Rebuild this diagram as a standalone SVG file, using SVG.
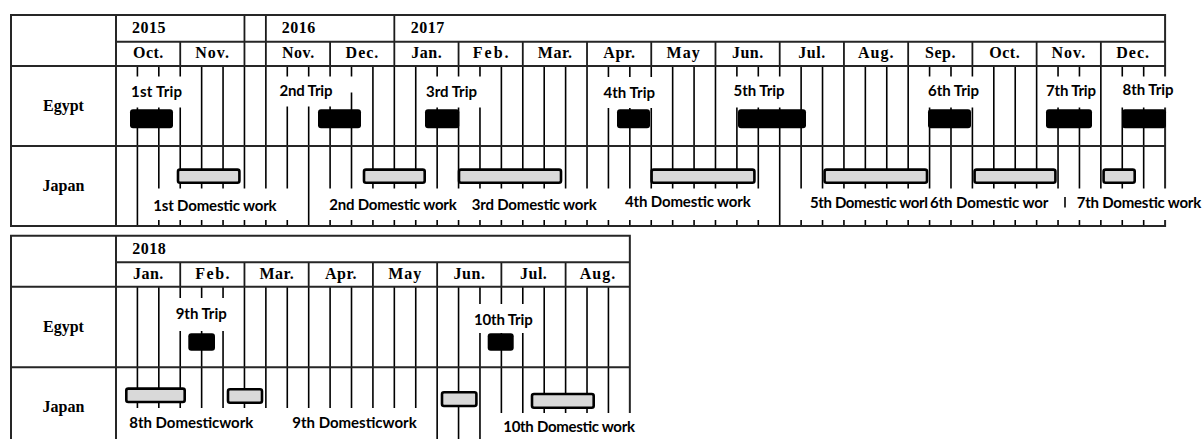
<svg xmlns="http://www.w3.org/2000/svg" width="1203" height="439" viewBox="0 0 1203 439">
<style>
  .frame{fill:none;stroke:#262626;stroke-width:2}
  .sep{fill:none;stroke:#1a1a1a;stroke-width:1.8}
  .grid{fill:none;stroke:#000;stroke-width:1.6}
  .hdr{font-family:"Liberation Serif","Times New Roman",serif;font-weight:bold;font-size:16px;fill:#000;letter-spacing:0.5px}
  .mon{text-anchor:middle}
  .row{font-family:"Liberation Serif","Times New Roman",serif;font-weight:bold;font-size:16px;fill:#000;text-anchor:middle}
  .lbl{font-family:Lato,"Liberation Sans",Arial,sans-serif;font-weight:bold;font-size:15px;fill:#000}
  .mask{fill:#fff}
  .trip{fill:#000}
  .work{fill:#d9d9d9;stroke:#000;stroke-width:2.6}
</style>
<rect width="1203" height="439" fill="#fff"/>

<!-- ===== 2015-2017 chart ===== -->
<g id="grid-2015-2017">
  <path class="grid" d="M137.41 66V226M158.82 66V226M180.23 66V226M201.64 66V226M223.05 66V226M244.46 66V226M265.87 66V226M287.28 66V226M308.69 66V226M330.1 66V226M351.51 66V226M372.92 66V226M394.33 66V226M415.74 66V226M437.15 66V226M458.56 66V226M479.97 66V226M501.38 66V226M522.79 66V226M544.2 66V226M565.61 66V226M587.02 66V226M608.43 66V226M629.84 66V226M651.25 66V226M672.66 66V226M694.07 66V226M715.48 66V226M736.89 66V226M758.3 66V226M779.71 66V226M801.12 66V226M822.53 66V226M843.94 66V226M865.35 66V226M886.76 66V226M908.17 66V226M929.58 66V226M950.99 66V226M972.4 66V226M993.81 66V226M1015.22 66V226M1036.63 66V226M1058.04 66V226M1079.45 66V226M1100.86 66V226M1122.27 66V226M1143.68 66V226"/>
  <path class="sep" d="M180.23 41.7V66M244.46 15V66M265.87 15V66M330.1 41.7V66M394.33 15V66M458.56 41.7V66M522.79 41.7V66M587.02 41.7V66M651.25 41.7V66M715.48 41.7V66M779.71 41.7V66M843.94 41.7V66M908.17 41.7V66M972.4 41.7V66M1036.63 41.7V66M1100.86 41.7V66"/>
  <path class="frame" d="M11 15H1165.09V226H11ZM116 15V226M116 41.7H1165.09M11 66H1165.09M11 146H1165.09"/>
</g>

<g id="header-2015-2017" class="hdr">
  <text x="132" y="32.5">2015</text>
  <text x="281.7" y="32.5">2016</text>
  <text x="410.7" y="32.5">2017</text>
  <g class="mon">
    <text x="148.4" y="58.3">Oct.</text>
    <text x="212.6" y="58.3" style="letter-spacing:1px">Nov.</text>
    <text x="298.3" y="58.3">Nov.</text>
    <text x="362.5" y="58.3" style="letter-spacing:1px">Dec.</text>
    <text x="426.7" y="58.3">Jan.</text>
    <text x="491.7" y="58.3" style="letter-spacing:2px">Feb.</text>
    <text x="555.2" y="58.3">Mar.</text>
    <text x="619.4" y="58.3">Apr.</text>
    <text x="683.6" y="58.3" style="letter-spacing:1px">May</text>
    <text x="747.8" y="58.3">Jun.</text>
    <text x="812" y="58.3">Jul.</text>
    <text x="876.3" y="58.3" style="letter-spacing:1px">Aug.</text>
    <text x="940.5" y="58.3">Sep.</text>
    <text x="1004.7" y="58.3">Oct.</text>
    <text x="1068.9" y="58.3" style="letter-spacing:1px">Nov.</text>
    <text x="1133.2" y="58.3" style="letter-spacing:1px">Dec.</text>
  </g>
</g>

<g id="rows-2015-2017" class="row">
  <text x="63.5" y="111">Egypt</text>
  <text x="63.5" y="191">Japan</text>
</g>

<!-- trips to Egypt -->
<g id="trip-1"><rect class="mask" x="128" y="76.5" width="56" height="31"/><text class="lbl" x="131" y="96.5" textLength="51">1st Trip</text><rect class="trip" x="130" y="109.3" width="43" height="19" rx="3"/></g>
<g id="trip-2"><rect class="mask" x="276" y="76.5" width="70" height="30"/><rect class="mask" x="346" y="76.5" width="10" height="16"/><text class="lbl" x="279.5" y="95.7" textLength="53">2nd Trip</text><rect class="trip" x="318" y="109.3" width="43" height="19" rx="3"/></g>
<g id="trip-3"><rect class="mask" x="423" y="76.5" width="60" height="31"/><text class="lbl" x="426" y="96.5" textLength="51">3rd Trip</text><rect class="trip" x="425" y="109.3" width="34.3" height="19" rx="3"/></g>
<g id="trip-4"><rect class="mask" x="600" y="77" width="58" height="31"/><text class="lbl" x="603.5" y="97.8" textLength="51.5">4th Trip</text><rect class="trip" x="617" y="109.3" width="33" height="19" rx="3"/></g>
<g id="trip-5"><rect class="mask" x="730" y="76.5" width="57" height="31"/><text class="lbl" x="733.5" y="96" textLength="51">5th Trip</text><rect class="trip" x="738" y="109.3" width="68" height="19" rx="3"/></g>
<g id="trip-6"><rect class="mask" x="925" y="76.5" width="57" height="31"/><text class="lbl" x="928" y="96" textLength="51">6th Trip</text><rect class="trip" x="928" y="109.3" width="43" height="19" rx="3"/></g>
<g id="trip-7"><rect class="mask" x="1043" y="76.5" width="56" height="31"/><text class="lbl" x="1046" y="96" textLength="50">7th Trip</text><rect class="trip" x="1046" y="109.3" width="46" height="19" rx="3"/></g>
<g id="trip-8"><rect class="mask" x="1119" y="76.5" width="57" height="31"/><text class="lbl" x="1122.5" y="95" textLength="51">8th Trip</text><rect class="trip" x="1122" y="109.3" width="44" height="19" rx="3"/></g>

<!-- domestic work in Japan -->
<g id="work-1"><rect class="mask" x="146" y="188.5" width="161" height="31.5"/><text class="lbl" x="153.3" y="210.5" textLength="123.3">1st Domestic work</text><rect class="work" x="178" y="169.6" width="61.4" height="13.1" rx="2"/></g>
<g id="work-2"><rect class="mask" x="326" y="188.5" width="138" height="31.5"/><text class="lbl" x="329.3" y="210.3" textLength="127.4">2nd Domestic work</text><rect class="work" x="364" y="169.6" width="60.7" height="13.1" rx="2"/></g>
<g id="work-3"><rect class="mask" x="464" y="188.5" width="150" height="31.5"/><text class="lbl" x="471.7" y="210.3" textLength="125">3rd Domestic work</text><rect class="work" x="459" y="169.6" width="102" height="13.1" rx="2"/></g>
<g id="work-4"><rect class="mask" x="614" y="188.5" width="163" height="31.5"/><text class="lbl" x="625" y="207.3" textLength="125.7">4th Domestic work</text><rect class="work" x="651.6" y="169.6" width="102.8" height="13.1" rx="2"/></g>
<g id="work-5"><rect class="mask" x="786" y="188.5" width="143" height="31.5"/><text class="lbl" x="810" y="207.5" textLength="118">5th Domestic worl</text><rect class="work" x="824.6" y="169.6" width="102.4" height="13.1" rx="2"/></g>
<g id="work-6"><rect class="mask" x="929" y="188.5" width="133" height="31.5"/><text class="lbl" x="930" y="207.5" textLength="118.3">6th Domestic wor</text><path d="M1065 197V207.5" stroke="#000" stroke-width="1.6"/><rect class="work" x="974.6" y="169.6" width="80.8" height="13.1" rx="2"/></g>
<g id="work-7"><rect class="mask" x="1068" y="188.5" width="135" height="31.5"/><text class="lbl" x="1076.7" y="208" textLength="124.5">7th Domestic work</text><rect class="work" x="1103.6" y="169.6" width="31.1" height="13.1" rx="2"/></g>

<!-- ===== 2018 chart ===== -->
<g id="grid-2018">
  <path class="grid" d="M137.41 286.7V439M158.82 286.7V439M180.23 286.7V439M201.64 286.7V439M223.05 286.7V439M244.46 286.7V439M265.87 286.7V439M287.28 286.7V439M308.69 286.7V439M330.1 286.7V439M351.51 286.7V439M372.92 286.7V439M394.33 286.7V439M415.74 286.7V439M437.15 286.7V439M458.56 286.7V439M479.97 286.7V439M501.38 286.7V439M522.79 286.7V439M544.2 286.7V439M565.61 286.7V439M587.02 286.7V439M608.43 286.7V439"/>
  <path class="sep" d="M180.23 262.3V286.7M244.46 262.3V286.7M308.69 262.3V286.7M372.92 262.3V286.7M437.15 262.3V286.7M501.38 262.3V286.7M565.61 262.3V286.7"/>
  <path class="frame" d="M11 440V235.7H629.84V440M116 235.7V440M116 262.3H629.84M11 286.7H629.84M11 367.3H629.84"/>
</g>

<g id="header-2018" class="hdr">
  <text x="132.3" y="253.5">2018</text>
  <g class="mon">
    <text x="148.4" y="278.5">Jan.</text>
    <text x="213.2" y="278.5" style="letter-spacing:1.5px">Feb.</text>
    <text x="276.8" y="278.5">Mar.</text>
    <text x="341" y="278.5">Apr.</text>
    <text x="405.2" y="278.5" style="letter-spacing:1px">May</text>
    <text x="469.5" y="278.5">Jun.</text>
    <text x="533.7" y="278.5">Jul.</text>
    <text x="597.9" y="278.5" style="letter-spacing:1px">Aug.</text>
  </g>
</g>

<g id="rows-2018" class="row">
  <text x="63.5" y="332">Egypt</text>
  <text x="63.5" y="412">Japan</text>
</g>

<g id="trip-9"><rect class="mask" x="172" y="298" width="58" height="33"/><text class="lbl" x="175.7" y="319.3" textLength="51">9th Trip</text><rect class="trip" x="188.3" y="333.3" width="26.7" height="17.4" rx="3"/></g>
<g id="trip-10"><rect class="mask" x="470" y="304" width="68" height="29"/><text class="lbl" x="474" y="325" textLength="58.7">10th Trip</text><rect class="trip" x="487.7" y="333.3" width="26" height="17.4" rx="3"/></g>

<g id="work-8"><rect class="mask" x="120" y="408" width="170" height="31"/><text class="lbl" x="129.3" y="428.3" textLength="124">8th Domesticwork</text><rect class="work" x="126.3" y="388.6" width="58.4" height="13.4" rx="2"/></g>
<g id="work-9"><rect class="mask" x="290" y="408" width="131" height="31"/><text class="lbl" x="292.3" y="428.3" textLength="124.4">9th Domesticwork</text><rect class="work" x="228" y="389.3" width="34" height="13.4" rx="2"/></g>
<g id="work-jun-2018"><rect class="work" x="442" y="392.3" width="34.4" height="13.7" rx="2"/></g>
<g id="work-10"><rect class="mask" x="498" y="413" width="143" height="26"/><text class="lbl" x="503.3" y="431.7" textLength="131.7">10th Domestic work</text><rect class="work" x="532" y="394" width="61.7" height="13.7" rx="2"/></g>
</svg>
